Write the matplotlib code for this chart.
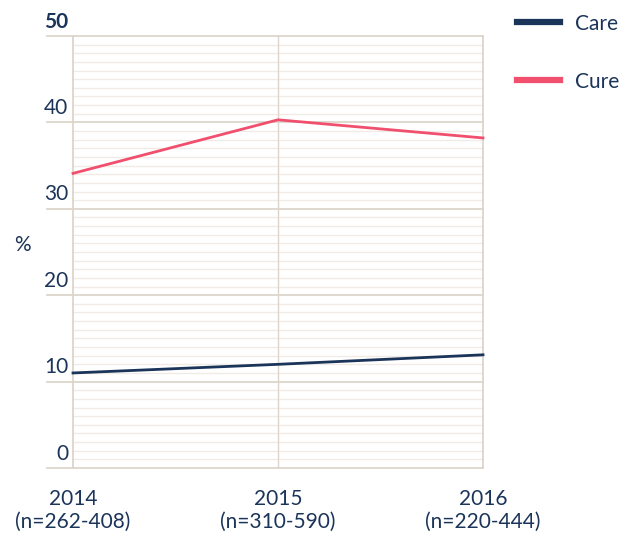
import numpy as np
import matplotlib.pyplot as plt

plt.rcParams['font.family'] = ['Lato', 'DejaVu Sans']

# data
years = ['2014', '2015', '2016']
sample_sizes = ['(n=262-408)', '(n=310-590)', '(n=220-444)']
care = [11.0, 12.0, 13.1]
cure = [34.1, 40.3, 38.2]
series_names = ['Care', 'Cure']

navy = '#1b3459'
pink = '#f0506e'
major_grid = '#ddd5cc'
minor_grid = '#f1ebe7'
fs = 15

fig = plt.figure(figsize=(6.22, 5.33), dpi=100)
ax = fig.add_axes([73 / 622, 1 - 468 / 533, 410 / 622, 432 / 533])

x = np.arange(len(years))
ax.set_xlim(0, 2)
ax.set_ylim(0, 50)

# minor grid every 1%, major every 10%
for v in range(0, 51):
    if v % 10:
        ax.axhline(v, color=minor_grid, lw=1, zorder=0)
for v in range(0, 51, 10):
    ax.axhline(v, xmin=-0.063, xmax=1, color=major_grid, lw=1.3, zorder=1, clip_on=False)
    ax.text(-0.012, v + 0.5, str(v), transform=ax.get_yaxis_transform(),
            ha='right', va='bottom', fontsize=fs, color=navy,
            fontweight='bold' if v == 50 else 'normal')

ax.axvline(1, color=major_grid, lw=1, zorder=1)

ax.plot(x, care, color=navy, lw=2, zorder=3, clip_on=False)
ax.plot(x, cure, color=pink, lw=2, zorder=3, clip_on=False)

for s in ['top', 'bottom']:
    ax.spines[s].set_visible(False)
for s in ['left', 'right']:
    ax.spines[s].set_color(major_grid)
    ax.spines[s].set_linewidth(1.3)

ax.set_xticks(x)
ax.set_xticklabels([f'{y}\n{n}' for y, n in zip(years, sample_sizes)],
                   fontsize=fs, color=navy, linespacing=1.2)
ax.tick_params(axis='x', length=0, pad=15)
ax.set_yticks([])

fig.text(22 / 622, 1 - 245 / 533, '%', fontsize=fs, color=navy, ha='center', va='center')

# legend drawn by hand at the top right
for i, (name, col) in enumerate(zip(series_names, [navy, pink])):
    yy = 1 - (22 + 58 * i) / 533
    fig.add_artist(plt.Line2D([517 / 622, 560 / 622], [yy, yy], color=col, lw=4.5,
                              transform=fig.transFigure))
    fig.text(575 / 622, yy - 0.003, name, fontsize=fs, color=navy, ha='left', va='center')

fig.savefig('out.png', dpi=100)
